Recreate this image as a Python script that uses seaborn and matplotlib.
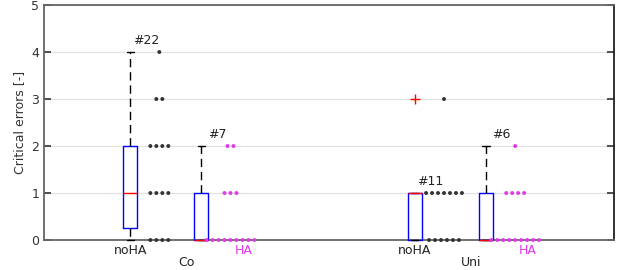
import matplotlib
matplotlib.use("Agg")
import matplotlib.pyplot as plt
import seaborn as sns
import pandas as pd

# groups / conditions
groups = ["Co", "Uni"]
conditions = ["noHA", "HA", "noHA", "HA"]
positions = [1, 2, 5, 6]
n_subjects = [22, 7, 11, 6]

# box statistics
q1 = [0.25, 0, 0, 0]
median = [1, 0, 1, 0]
q3 = [2, 1, 1, 1]
whisker_low = [0, 0, 0, 0]
whisker_high = [4, 2, 1, 2]
fliers = [[], [], [3], []]

# number of dots at each error value
error_values = [0, 1, 2, 3, 4]
dot_counts = [
    [4, 4, 4, 2, 1],
    [9, 3, 2, 0, 0],
    [6, 7, 0, 1, 0],
    [9, 4, 1, 0, 0],
]

cond_colors = {"noHA": "#333333", "HA": "#e03ae8"}

sns.set_style("ticks")
plt.rcParams["font.family"] = ["DejaVu Sans"]
plt.rcParams["font.size"] = 9

fig = plt.figure(figsize=(6.21, 2.70), dpi=100)
ax = fig.add_axes([0.0709, 0.111, 0.918, 0.8705])

# horizontal grid
for v in range(0, 6):
    ax.axhline(v, color="#e2e2e2", lw=0.9, zorder=0)

stats = []
for i in range(len(positions)):
    stats.append({"q1": q1[i], "med": median[i], "q3": q3[i],
                  "whislo": whisker_low[i], "whishi": whisker_high[i],
                  "fliers": fliers[i]})

parts = ax.bxp(stats, positions=positions, widths=0.2, showfliers=True,
               boxprops=dict(color="#0000ff", lw=1.0),
               medianprops=dict(color="#ff0000", lw=1.0),
               whiskerprops=dict(color="black", lw=1.0, linestyle=(0, (6, 3.5))),
               capprops=dict(color="black", lw=1.0),
               capwidths=0.1,
               flierprops=dict(marker="+", markeredgecolor="#ff0000", markersize=7,
                               markeredgewidth=1.0),
               manage_ticks=False, zorder=3)
for key in parts:
    for art in parts[key]:
        art.set_clip_on(False)
for m in parts["medians"]:
    m.set_zorder(4)

# dots to the right of each box
rows = []
spacing = 0.084
for i, pos in enumerate(positions):
    for val, cnt in zip(error_values, dot_counts[i]):
        for k in range(cnt):
            rows.append({"x": pos + 0.41 + (k - (cnt - 1) / 2) * spacing,
                         "y": val, "cond": conditions[i]})
dots = pd.DataFrame(rows)
sns.scatterplot(data=dots, x="x", y="y", hue="cond", palette=cond_colors,
                s=8, linewidth=0, legend=False, ax=ax, zorder=5, clip_on=False)

# subject counts
for i, pos in enumerate(positions):
    ax.text(pos + 0.22, whisker_high[i] + 0.25, "#%d" % n_subjects[i],
            ha="center", va="center", fontsize=9, color="#222222")

ax.set_xlim(-0.21, 7.8)
ax.set_ylim(0, 5)
ax.set_yticks(range(0, 6))
ax.set_xticks([])
ax.set_xlabel("")
ax.set_ylabel("Critical errors [-]", fontsize=9, color="#333333")
ax.tick_params(axis="y", direction="in", length=5, right=True,
               labelsize=9, colors="#333333", width=1.2)

# category labels below the axis
for i, pos in enumerate(positions):
    off = 0 if conditions[i] == "noHA" else 0.59
    ax.text(pos + off, -0.09, conditions[i], ha="center", va="top",
            fontsize=9, color="#222222" if conditions[i] == "noHA" else "#e03ae8",
            clip_on=False)
for g, (a, b) in zip(groups, [(positions[0], positions[1] + 0.59),
                              (positions[2], positions[3] + 0.59)]):
    ax.text((a + b) / 2, -0.34, g, ha="center", va="top", fontsize=9,
            color="#222222", clip_on=False)

for side in ["left", "top", "bottom"]:
    ax.spines[side].set_color("#666666")
    ax.spines[side].set_linewidth(1.3)
ax.spines["right"].set_color("#222222")
ax.spines["right"].set_linewidth(1.3)

fig.savefig("out.png", dpi=100)
